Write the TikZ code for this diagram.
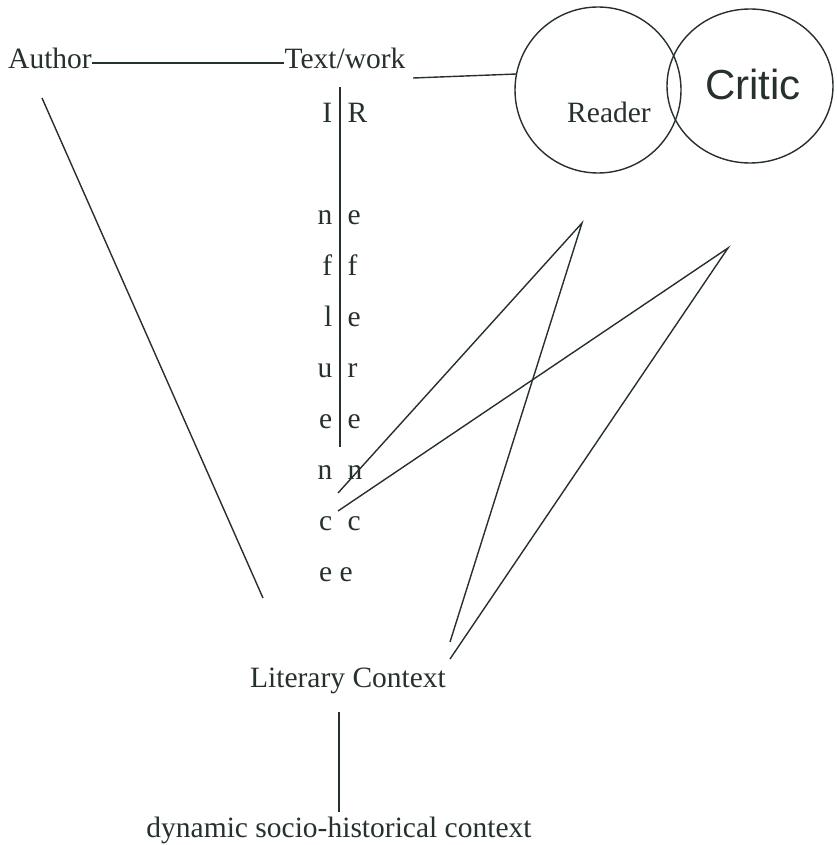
\documentclass[tikz,border=0pt]{standalone}
\usepackage{fontspec}
\setmainfont{Liberation Serif}
\newfontfamily\handfont{Liberation Sans}
\usetikzlibrary{shapes.geometric,positioning}
\definecolor{ink}{RGB}{38,48,44}

\begin{document}
\begin{tikzpicture}[x=1pt,y=-1pt,line width=1.4pt,draw=ink,text=ink,
                    inner sep=0pt]
  \tikzstyle{every node}=[font=\fontsize{29.5}{35}\selectfont]
  \tikzstyle{label}=[anchor=base]
  \tikzstyle{ring}=[draw,ellipse]
  \useasboundingbox (0,0) rectangle (836,845);

  \node[label] (Author) at (50,69)   {Author};
  \node[label] (Text)   at (345,69)  {Text/work};
  \node[ring,minimum width=166pt,minimum height=166pt] (RC) at (598,90) {};
  \node[ring,minimum width=166pt,minimum height=154pt] (CC) at (750,86) {};
  \node[label] (Reader) at (609,123) {Reader};
  \node[label,font=\handfont\fontsize{42}{48}\selectfont] (Critic) at (753,100) {Critic};
  \node[label] (Lit)    at (348,687) {Literary Context};
  \node[label] (Dyn)    at (339,837) {dynamic socio-historical context};

  % Influence | Reference
  \foreach \y/\l/\r [count=\i] in {123/I/R,224/n/e,275/f/f,326/l/e,377/u/r,
                                    428/e/e,479/n/n,530/c/c}
  {
    \node[anchor=base east] (inf\i) at (333,\y) {\l};
    \node[anchor=base west] (ref\i) at (347,\y) {\r};
  }
  \node[anchor=base east] (inf9) at (333,581) {e};
  \node[anchor=base west] (ref9) at (339,581) {e};

  \coordinate (Split top) at (340,87);
  \coordinate (Split end) at (340,447);
  \coordinate (A0) at (42,98);
  \coordinate (A1) at (263,598);
  \coordinate (N1) at (338,493);
  \coordinate (N2) at (338,511);
  \coordinate (P1) at (582,223);
  \coordinate (P2) at (728,248);
  \coordinate (E1) at (450,642);
  \coordinate (E2) at (450,659);

  \draw ([yshift=6pt]Author.base east) -- ([yshift=6pt]Text.base west);
  \draw ([xshift=7pt,yshift=-9pt]Text.base east) -- (RC.169);
  \draw (Split top) -- (Split end);
  \draw (A0) -- (A1);
  \draw (N1) -- (P1) -- (E1);
  \draw (N2) -- (P2) -- (E2);
  \draw[shorten <=18pt,shorten >=4pt] (Lit.south -| Dyn.north) -- (Dyn.north);
\end{tikzpicture}
\end{document}
